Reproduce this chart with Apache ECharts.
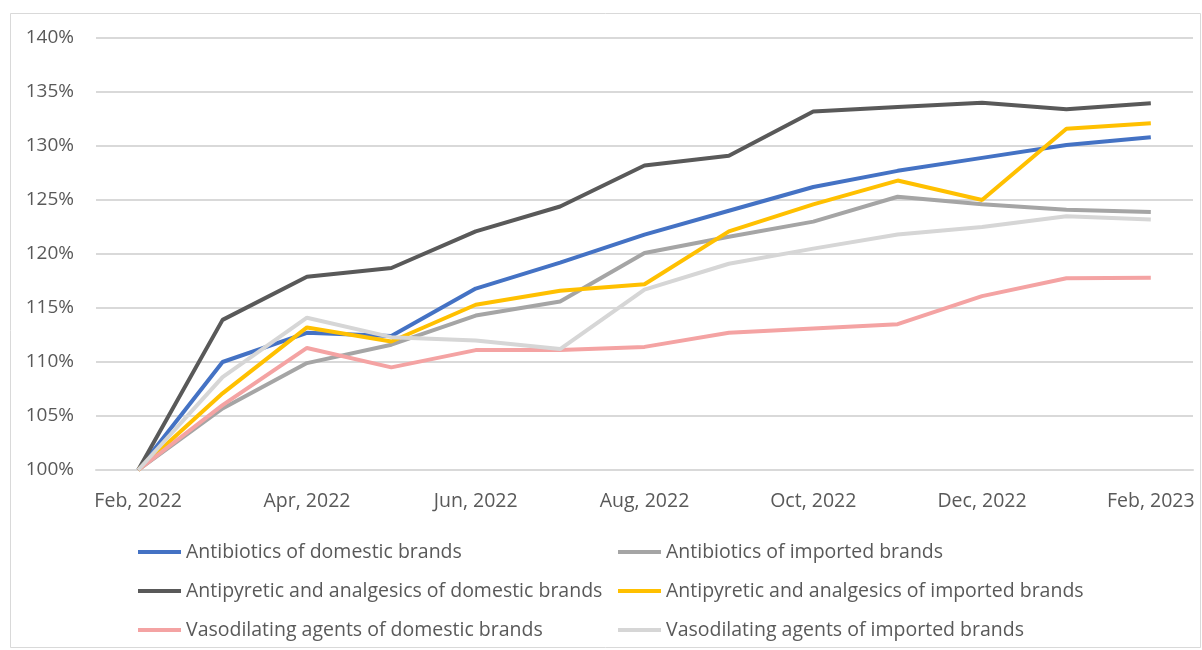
<!DOCTYPE html>
<html>
<head>
<meta charset="utf-8">
<style>
  html, body { margin: 0; padding: 0; background: #fff; }
  #chart { width: 1202px; height: 650px; }
</style>
<script src="https://cdn.jsdelivr.net/npm/echarts@6/dist/echarts.min.js"></script>
</head>
<body>
<div id="chart"></div>
<script>
// months on the x axis
var months = ['Feb, 2022', 'Mar, 2022', 'Apr, 2022', 'May, 2022', 'Jun, 2022', 'Jul, 2022',
  'Aug, 2022', 'Sep, 2022', 'Oct, 2022', 'Nov, 2022', 'Dec, 2022', 'Jan, 2023', 'Feb, 2023'];

// index values, % of Feb 2022
var antibioticsDomestic = [100, 110.0, 112.7, 112.4, 116.8, 119.2, 121.8, 124.0, 126.2, 127.7, 128.9, 130.1, 130.8];
var antibioticsImported = [100, 105.7, 109.9, 111.6, 114.3, 115.6, 120.1, 121.6, 123.0, 125.3, 124.6, 124.1, 123.9];
var antipyreticDomestic = [100, 113.9, 117.9, 118.7, 122.1, 124.4, 128.2, 129.1, 133.2, 133.6, 134.0, 133.4, 133.95];
var antipyreticImported = [100, 107.1, 113.2, 111.9, 115.3, 116.6, 117.2, 122.1, 124.6, 126.8, 125.0, 131.6, 132.1];
var vasoDomestic = [100, 106.0, 111.3, 109.5, 111.1, 111.1, 111.4, 112.7, 113.1, 113.5, 116.1, 117.75, 117.8];
var vasoImported = [100, 108.6, 114.1, 112.3, 112.0, 111.2, 116.7, 119.1, 120.5, 121.8, 122.5, 123.5, 123.2];

var yTicks = { min: 100, max: 140, interval: 5 };

var names = [
  'Antibiotics of domestic brands',
  'Antibiotics of imported brands',
  'Antipyretic and analgesics of domestic brands',
  'Antipyretic and analgesics of imported brands',
  'Vasodilating agents of domestic brands',
  'Vasodilating agents of imported brands'
];
var colors = ['#4472C4', '#A5A5A5', '#595959', '#FFC000', '#F4A3A3', '#D6D6D6'];
var values = [antibioticsDomestic, antibioticsImported, antipyreticDomestic,
  antipyreticImported, vasoDomestic, vasoImported];

var fontFamily = '"Open Sans", "Noto Sans", sans-serif';
var textColor = '#595959';

var myChart = echarts.init(document.getElementById('chart'));

function legendCol(left, data) {
  return {
    orient: 'vertical',
    left: left,
    top: 537,
    icon: 'rect',
    itemWidth: 43,
    itemHeight: 4,
    itemGap: 19,
    data: data,
    textStyle: { color: textColor, fontSize: 19.5, fontFamily: fontFamily, lineHeight: 20 }
  };
}

var option = {
  animation: false,
  backgroundColor: '#fff',
  graphic: [{
    type: 'rect',
    shape: { x: 10.5, y: 13.5, width: 1190, height: 634 },
    style: { fill: 'none', stroke: '#D9D9D9', lineWidth: 1 },
    z: -1
  }],
  legend: [
    legendCol(133, [names[0], names[2], names[4]]),
    legendCol(613, [names[1], names[3], names[5]])
  ],
  grid: { left: 96, right: 9, top: 38, bottom: 180 },
  xAxis: {
    type: 'category',
    data: months,
    boundaryGap: true,
    axisLine: { show: true, lineStyle: { color: '#D9D9D9', width: 2 } },
    axisTick: { show: false },
    axisLabel: {
      interval: 1,
      color: textColor,
      fontSize: 19.5,
      fontFamily: fontFamily,
      margin: 21
    }
  },
  yAxis: {
    type: 'value',
    min: yTicks.min,
    max: yTicks.max,
    interval: yTicks.interval,
    axisLine: { show: false },
    axisTick: { show: false },
    splitLine: { lineStyle: { color: '#D9D9D9', width: 2 } },
    axisLabel: {
      formatter: '{value}%',
      color: textColor,
      fontSize: 19,
      fontFamily: fontFamily,
      margin: 22
    }
  },
  series: names.map(function (n, i) {
    return {
      name: n,
      type: 'line',
      data: values[i],
      symbol: 'none',
      color: colors[i],
      lineStyle: { width: 4, color: colors[i] }
    };
  })
};

myChart.setOption(option);
window.addEventListener('resize', function () { myChart.resize(); });
</script>
</body>
</html>
